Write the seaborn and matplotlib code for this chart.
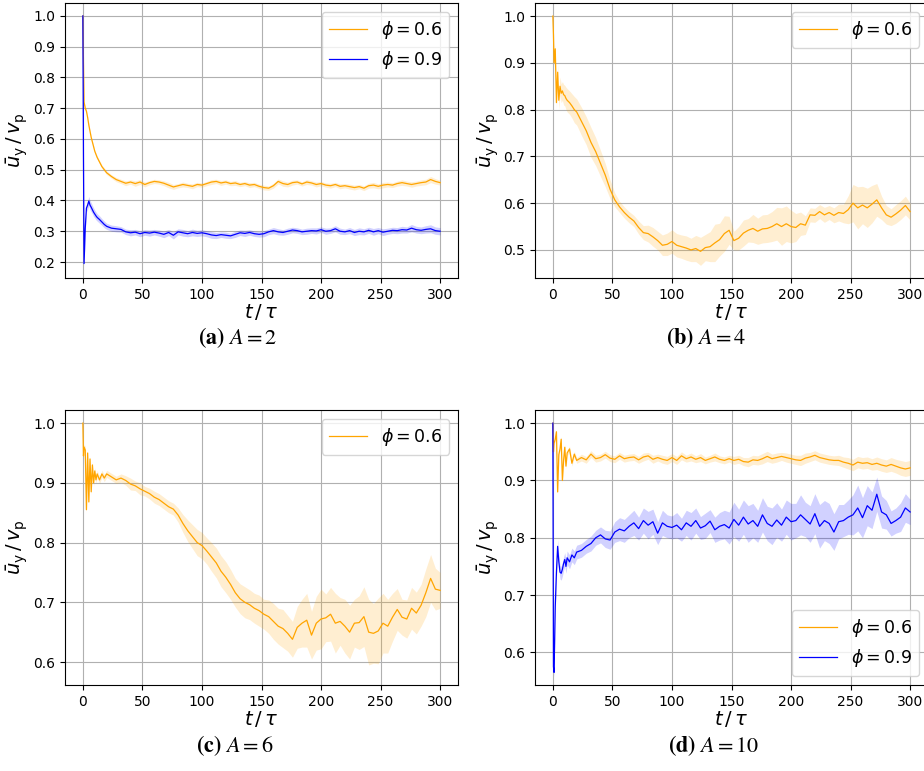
import numpy as np
import matplotlib
matplotlib.use("Agg")
import matplotlib.pyplot as plt
from matplotlib.ticker import MultipleLocator
import seaborn as sns

# ---------------- data ----------------
t = np.array([0, 0.5, 1, 2, 3, 4, 5, 6, 7, 8, 9, 10, 11, 12,
              14, 16, 18, 20] + list(range(24, 301, 4)), dtype=float)

a_phi06 = [1.0, 0.85, 0.72, 0.70, 0.69, 0.67, 0.645, 0.625, 0.605, 0.59, 0.575, 0.56, 0.55, 0.54,
           0.525, 0.51, 0.50, 0.49,
           0.478, 0.468, 0.462, 0.456, 0.46, 0.455, 0.46, 0.452, 0.458, 0.462,
           0.46, 0.456, 0.45, 0.444, 0.448, 0.452, 0.449, 0.446, 0.452, 0.45,
           0.455, 0.46, 0.462, 0.457, 0.46, 0.455, 0.457, 0.452, 0.455, 0.45,
           0.452, 0.446, 0.442, 0.44, 0.448, 0.462, 0.455, 0.452, 0.458, 0.46,
           0.454, 0.46, 0.457, 0.452, 0.455, 0.45, 0.448, 0.452, 0.446, 0.448,
           0.445, 0.442, 0.445, 0.44, 0.448, 0.45, 0.446, 0.45, 0.452, 0.45,
           0.455, 0.458, 0.455, 0.452, 0.455, 0.458, 0.46, 0.468, 0.462, 0.458]
a_phi06_sd = [0.0, 0.004, 0.004, 0.004, 0.004, 0.004, 0.004, 0.004, 0.004, 0.004, 0.004, 0.004, 0.004, 0.005,
              0.005, 0.005, 0.006, 0.006,
              0.006, 0.007, 0.007, 0.008, 0.007, 0.009, 0.008, 0.008, 0.007, 0.007,
              0.007, 0.008, 0.009, 0.008, 0.007, 0.008, 0.007, 0.008, 0.007, 0.007,
              0.007, 0.008, 0.007, 0.008, 0.007, 0.007, 0.008, 0.007, 0.007, 0.008,
              0.007, 0.007, 0.008, 0.007, 0.008, 0.008, 0.009, 0.008, 0.008, 0.007,
              0.007, 0.008, 0.007, 0.008, 0.007, 0.007, 0.008, 0.007, 0.008, 0.007,
              0.008, 0.008, 0.007, 0.008, 0.008, 0.009, 0.008, 0.009, 0.008, 0.008,
              0.008, 0.009, 0.008, 0.009, 0.008, 0.009, 0.009, 0.01, 0.009, 0.008]

a_phi09 = [1.0, 0.55, 0.195, 0.31, 0.375, 0.385, 0.398, 0.385, 0.378, 0.37, 0.362, 0.356, 0.35, 0.345,
           0.338, 0.33, 0.322, 0.316,
           0.31, 0.308, 0.306, 0.298, 0.295, 0.297, 0.292, 0.296, 0.294, 0.297,
           0.294, 0.29, 0.296, 0.287, 0.298, 0.295, 0.292, 0.296, 0.293, 0.295,
           0.292, 0.288, 0.286, 0.289, 0.287, 0.285, 0.29, 0.295, 0.293, 0.296,
           0.292, 0.29, 0.292, 0.298, 0.302, 0.298, 0.296, 0.3, 0.304, 0.302,
           0.298, 0.3, 0.302, 0.301, 0.305, 0.3, 0.302, 0.308, 0.3, 0.298,
           0.302, 0.296, 0.3, 0.298, 0.303, 0.298, 0.302, 0.297, 0.3, 0.303,
           0.302, 0.305, 0.304, 0.31, 0.305, 0.303, 0.306, 0.308, 0.302, 0.3]
a_phi09_sd = [0.0, 0.006, 0.008, 0.01, 0.012, 0.014, 0.015, 0.015, 0.015, 0.014, 0.014, 0.013, 0.013, 0.012,
              0.012, 0.011, 0.011, 0.01,
              0.01, 0.01, 0.009, 0.009, 0.01, 0.009, 0.01, 0.009, 0.01, 0.009,
              0.01, 0.011, 0.01, 0.012, 0.01, 0.011, 0.01, 0.011, 0.01, 0.01,
              0.01, 0.011, 0.01, 0.009, 0.01, 0.009, 0.01, 0.009, 0.01, 0.009,
              0.009, 0.009, 0.01, 0.009, 0.01, 0.01, 0.009, 0.01, 0.009, 0.009,
              0.009, 0.01, 0.009, 0.01, 0.009, 0.01, 0.009, 0.01, 0.01, 0.009,
              0.01, 0.01, 0.011, 0.01, 0.01, 0.011, 0.01, 0.011, 0.01, 0.01,
              0.01, 0.011, 0.01, 0.012, 0.011, 0.011, 0.012, 0.013, 0.012, 0.012]

b_phi06 = [1.0, 0.96, 0.90, 0.93, 0.815, 0.88, 0.82, 0.85, 0.835, 0.84, 0.832, 0.83, 0.824, 0.82,
           0.815, 0.808, 0.80, 0.795,
           0.775, 0.755, 0.73, 0.71, 0.685, 0.66, 0.63, 0.607, 0.592, 0.58,
           0.57, 0.562, 0.548, 0.537, 0.535, 0.528, 0.52, 0.51, 0.512, 0.518,
           0.51, 0.507, 0.504, 0.5, 0.503, 0.497, 0.505, 0.507, 0.515, 0.522,
           0.535, 0.542, 0.52, 0.525, 0.536, 0.542, 0.546, 0.54, 0.545, 0.546,
           0.55, 0.556, 0.55, 0.556, 0.55, 0.548, 0.556, 0.553, 0.575, 0.574,
           0.582, 0.575, 0.58, 0.574, 0.58, 0.578, 0.586, 0.6, 0.59, 0.596,
           0.59, 0.598, 0.607, 0.59, 0.575, 0.57, 0.577, 0.585, 0.595, 0.582]
b_phi06_sd = [0.0, 0.005, 0.01, 0.01, 0.015, 0.015, 0.02, 0.02, 0.02, 0.02, 0.022, 0.022, 0.024, 0.025,
              0.025, 0.026, 0.028, 0.028,
              0.03, 0.03, 0.032, 0.03, 0.028, 0.025, 0.02, 0.015, 0.012, 0.012,
              0.012, 0.012, 0.014, 0.015, 0.018, 0.02, 0.02, 0.022, 0.024, 0.025,
              0.025, 0.025, 0.026, 0.025, 0.028, 0.03, 0.028, 0.032, 0.04, 0.035,
              0.038, 0.03, 0.02, 0.025, 0.028, 0.025, 0.03, 0.028, 0.03, 0.03,
              0.032, 0.035, 0.04, 0.038, 0.035, 0.03, 0.025, 0.02, 0.015, 0.015,
              0.015, 0.016, 0.015, 0.016, 0.018, 0.02, 0.03, 0.04, 0.045, 0.04,
              0.042, 0.04, 0.035, 0.025, 0.02, 0.018, 0.02, 0.02, 0.02, 0.018]

c_phi06 = [1.0, 0.945, 0.96, 0.955, 0.855, 0.95, 0.868, 0.94, 0.885, 0.93, 0.9, 0.92, 0.905, 0.915,
           0.905, 0.915, 0.908, 0.915,
           0.91, 0.905, 0.908, 0.904, 0.898, 0.895, 0.89, 0.886, 0.882, 0.876,
           0.872, 0.866, 0.86, 0.856, 0.846, 0.832, 0.82, 0.81, 0.8, 0.795,
           0.786, 0.776, 0.766, 0.752, 0.742, 0.73, 0.716, 0.706, 0.7, 0.696,
           0.69, 0.686, 0.68, 0.676, 0.668, 0.66, 0.656, 0.648, 0.638, 0.658,
           0.665, 0.67, 0.645, 0.665, 0.672, 0.674, 0.68, 0.665, 0.668, 0.66,
           0.65, 0.665, 0.666, 0.676, 0.65, 0.648, 0.652, 0.665, 0.66, 0.675,
           0.688, 0.675, 0.672, 0.69, 0.682, 0.695, 0.716, 0.74, 0.722, 0.72]
c_phi06_sd = [0.0, 0.005, 0.005, 0.006, 0.006, 0.006, 0.006, 0.006, 0.006, 0.006, 0.006, 0.006, 0.006, 0.006,
              0.006, 0.006, 0.006, 0.006,
              0.006, 0.006, 0.007, 0.008, 0.01, 0.008, 0.01, 0.008, 0.009, 0.01,
              0.01, 0.01, 0.01, 0.01, 0.012, 0.015, 0.018, 0.02, 0.022, 0.022,
              0.022, 0.024, 0.025, 0.026, 0.026, 0.025, 0.024, 0.025, 0.026, 0.025,
              0.025, 0.026, 0.025, 0.028, 0.03, 0.03, 0.032, 0.03, 0.03, 0.035,
              0.04, 0.045, 0.04, 0.045, 0.05, 0.04, 0.045, 0.05, 0.04, 0.045,
              0.045, 0.04, 0.045, 0.05, 0.055, 0.05, 0.055, 0.05, 0.045, 0.04,
              0.035, 0.03, 0.032, 0.035, 0.035, 0.035, 0.04, 0.04, 0.035, 0.03]

d_phi06 = [1.0, 0.95, 0.965, 0.972, 0.985, 0.88, 0.945, 0.955, 0.972, 0.90, 0.935, 0.958, 0.925, 0.948,
           0.955, 0.93, 0.946, 0.935,
           0.94, 0.936, 0.946, 0.938, 0.94, 0.945, 0.939, 0.937, 0.943, 0.938,
           0.94, 0.941, 0.936, 0.941, 0.943, 0.937, 0.94, 0.937, 0.935, 0.94,
           0.935, 0.943, 0.938, 0.941, 0.937, 0.94, 0.935, 0.938, 0.941, 0.937,
           0.935, 0.938, 0.935, 0.937, 0.933, 0.932, 0.936, 0.935, 0.938, 0.942,
           0.938, 0.94, 0.942, 0.94, 0.938, 0.936, 0.935, 0.939, 0.941, 0.944,
           0.94, 0.938, 0.936, 0.935, 0.935, 0.932, 0.93, 0.927, 0.932, 0.93,
           0.931, 0.928, 0.93, 0.927, 0.925, 0.928, 0.925, 0.922, 0.92, 0.922]
d_phi06_sd = [0.0, 0.003, 0.003, 0.004, 0.004, 0.004, 0.004, 0.004, 0.005, 0.005, 0.005, 0.005, 0.005, 0.005,
              0.005, 0.005, 0.005, 0.005,
              0.006, 0.006, 0.006, 0.006, 0.006, 0.006, 0.006, 0.006, 0.006, 0.006,
              0.006, 0.006, 0.006, 0.007, 0.006, 0.007, 0.006, 0.007, 0.007, 0.007,
              0.007, 0.007, 0.006, 0.007, 0.006, 0.007, 0.006, 0.006, 0.007, 0.006,
              0.006, 0.006, 0.007, 0.007, 0.007, 0.008, 0.008, 0.008, 0.009, 0.009,
              0.008, 0.008, 0.007, 0.008, 0.008, 0.008, 0.009, 0.009, 0.008, 0.008,
              0.008, 0.008, 0.008, 0.008, 0.009, 0.009, 0.01, 0.01, 0.01, 0.01,
              0.01, 0.01, 0.011, 0.011, 0.011, 0.012, 0.012, 0.013, 0.013, 0.013]

d_phi09 = [1.0, 0.575, 0.565, 0.68, 0.74, 0.785, 0.758, 0.74, 0.738, 0.745, 0.755, 0.762, 0.75, 0.765,
           0.758, 0.77, 0.765, 0.775,
           0.778, 0.785, 0.79, 0.8, 0.805, 0.798, 0.796, 0.81, 0.815, 0.812,
           0.82, 0.826, 0.816, 0.83, 0.822, 0.828, 0.808, 0.826, 0.82, 0.818,
           0.822, 0.814, 0.826, 0.82, 0.83, 0.817, 0.821, 0.829, 0.814, 0.82,
           0.823, 0.817, 0.832, 0.822, 0.836, 0.824, 0.83, 0.82, 0.84, 0.825,
           0.82, 0.831, 0.822, 0.836, 0.828, 0.83, 0.84, 0.832, 0.824, 0.842,
           0.82, 0.83, 0.825, 0.81, 0.828, 0.83, 0.836, 0.84, 0.852, 0.835,
           0.856, 0.848, 0.876, 0.845, 0.84, 0.825, 0.83, 0.836, 0.852, 0.845]
d_phi09_sd = [0.0, 0.005, 0.008, 0.01, 0.012, 0.012, 0.012, 0.012, 0.012, 0.012, 0.012, 0.012, 0.012, 0.012,
              0.012, 0.012, 0.012, 0.012,
              0.012, 0.012, 0.013, 0.013, 0.014, 0.015, 0.016, 0.018, 0.02, 0.02,
              0.02, 0.022, 0.02, 0.022, 0.024, 0.022, 0.02, 0.022, 0.02, 0.02,
              0.022, 0.02, 0.022, 0.024, 0.022, 0.02, 0.022, 0.02, 0.022, 0.024,
              0.025, 0.028, 0.03, 0.028, 0.03, 0.032, 0.03, 0.028, 0.03, 0.03,
              0.032, 0.03, 0.028, 0.03, 0.032, 0.03, 0.035, 0.03, 0.032, 0.035,
              0.038, 0.035, 0.035, 0.032, 0.03, 0.028, 0.03, 0.035, 0.04, 0.035,
              0.035, 0.032, 0.03, 0.028, 0.025, 0.022, 0.022, 0.025, 0.025, 0.022]

panel_labels = ["a", "b", "c", "d"]
panel_A = ["2", "4", "6", "10"]
legend_06 = r"$\phi = 0.6$"
legend_09 = r"$\phi = 0.9$"
x_ticks = [0, 50, 100, 150, 200, 250, 300]

# ---------------- figure ----------------
fig = plt.figure(figsize=(9.24, 7.71), dpi=100)

W, H = 924, 771
def axes_px(left, top, right, bottom):
    return fig.add_axes([left / W, 1 - bottom / H, (right - left) / W, (bottom - top) / H])

axs = [axes_px(65, 3, 458, 278),
       axes_px(535, 3, 928, 278),
       axes_px(65, 410, 458, 685),
       axes_px(535, 410, 928, 685)]

ORANGE = "orange"
BLUE = "blue"

panels = [
    [(a_phi06, a_phi06_sd, ORANGE, legend_06), (a_phi09, a_phi09_sd, BLUE, legend_09)],
    [(b_phi06, b_phi06_sd, ORANGE, legend_06)],
    [(c_phi06, c_phi06_sd, ORANGE, legend_06)],
    [(d_phi06, d_phi06_sd, ORANGE, legend_06), (d_phi09, d_phi09_sd, BLUE, legend_09)],
]
ylims = [(0.148, 1.042), (0.44, 1.028), (0.5615, 1.022), (0.543, 1.023)]
legend_loc = ["upper right", "upper right", "upper right", "lower right"]

for ax, series, yl, loc in zip(axs, panels, ylims, legend_loc):
    for vals, sd, col, lab in series:
        v = np.asarray(vals)
        s = np.asarray(sd)
        ax.fill_between(t, v - s, v + s, color=col, alpha=0.18, linewidth=0)
        sns.lineplot(x=t, y=v, ax=ax, color=col, linewidth=0.9, label=lab)
    ax.set_xlim(-15, 315)
    ax.set_ylim(*yl)
    ax.set_xticks(x_ticks)
    ax.yaxis.set_major_locator(MultipleLocator(0.1))
    ax.yaxis.set_major_formatter(matplotlib.ticker.FormatStrFormatter("%.1f"))
    ax.grid(True, color="#b0b0b0", linewidth=0.8)
    ax.set_axisbelow(True)
    ax.tick_params(labelsize=10)
    ax.set_xlabel(r"$t\,/\,\tau$", fontsize=14, labelpad=0)
    ax.set_ylabel(r"$\bar{u}_\mathrm{y}\,/\,v_\mathrm{p}$", fontsize=14, labelpad=2)
    ax.legend(loc=loc, fontsize=12.5, handlelength=2.2)

cap_pos = [(238, 338), (706, 338), (235, 746), (714, 746)]
for (cx, cy), lab, A in zip(cap_pos, panel_labels, panel_A):
    fig.text(cx / W, 1 - cy / H, r"$\mathbf{(%s)}\ A = %s$" % (lab, A),
             ha="center", va="center", fontsize=16, math_fontfamily="stix")

fig.savefig("out.png", dpi=100)
